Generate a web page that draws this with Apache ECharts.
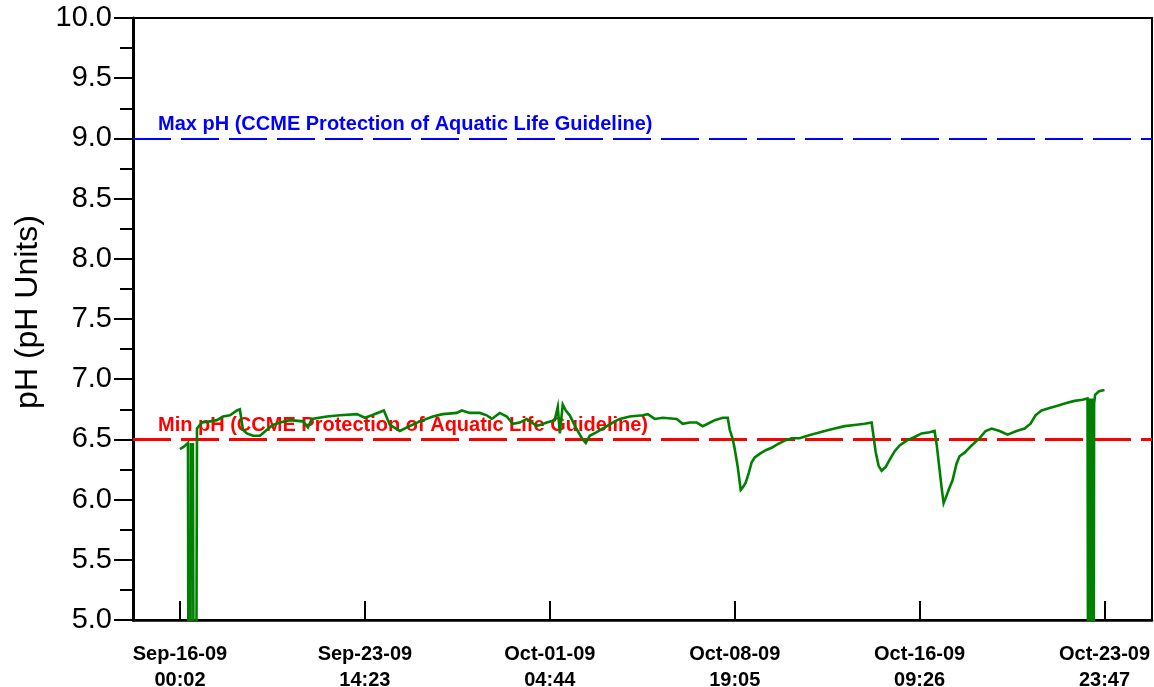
<!DOCTYPE html>
<html>
<head>
<meta charset="utf-8">
<title>pH (pH Units)</title>
<script src="https://cdn.jsdelivr.net/npm/echarts@6/dist/echarts.min.js"></script>
<style>
  html, body { margin: 0; padding: 0; background: #ffffff; }
  #chart { width: 1154px; height: 687px; }
</style>
</head>
<body>
<div id="chart"></div>
<script>
// Elapsed hours since Sep-16-09 00:00 for each logged reading
const elapsedHours = [
  0.03, 3.9, 7.9, 9.4, 10.8, 12.8, 14.8, 16.8, 21.7, 29.6,
  36.5, 42.4, 49.3, 56.2, 59.1, 62.1, 66.0, 72.0, 78.9, 85.8,
  91.7, 98.6, 108.4, 121.2, 126.2, 130.1, 144.9, 157.7, 174.5, 182.4,
  189.3, 201.1, 207.0, 216.8, 223.8, 236.6, 249.4, 259.2, 273.0, 277.9,
  285.9, 295.7, 302.6, 307.5, 315.4, 322.3, 328.2, 335.1, 342.0, 351.9,
  361.7, 369.6, 372.6, 374.6, 377.5, 380.5, 384.4, 390.3, 396.3, 400.2,
  404.1, 411.0, 418.9, 426.8, 433.7, 443.6, 456.4, 461.3, 468.2, 476.1,
  489.9, 495.8, 502.7, 509.6, 515.5, 520.5, 527.4, 535.3, 540.2, 542.2,
  545.2, 547.1, 550.1, 553.0, 555.0, 557.9, 560.9, 563.8, 566.8, 571.7,
  577.6, 583.5, 589.5, 596.4, 603.3, 611.1, 619.0, 626.9, 635.8, 645.6,
  655.5, 665.3, 675.2, 682.1, 684.1, 686.0, 689.0, 691.9, 695.9, 699.8,
  704.7, 709.7, 716.6, 724.5, 731.4, 739.3, 744.2, 746.2, 749.1, 751.1,
  753.1, 755.0, 758.0, 761.9, 765.9, 768.8, 773.8, 780.7, 788.6, 794.5,
  800.4, 808.3, 816.2, 825.0, 832.9, 838.8, 843.7, 849.7, 857.6, 865.4,
  873.3, 882.2, 890.1, 895.0, 896.5, 897.5, 898.5, 899.5, 900.5, 901.5,
  902.5, 906.3, 911.78
];

// pH readings (sensor dropouts are logged as 0)
const phValues = [
  6.42, 6.44, 6.47, 0, 6.46, 6.46, 0, 6.59, 6.64, 6.65,
  6.66, 6.69, 6.70, 6.74, 6.75, 6.58, 6.55, 6.53, 6.53, 6.58,
  6.62, 6.64, 6.66, 6.65, 6.60, 6.67, 6.69, 6.70, 6.71, 6.68,
  6.70, 6.74, 6.62, 6.57, 6.60, 6.65, 6.69, 6.71, 6.72, 6.74,
  6.72, 6.72, 6.70, 6.67, 6.72, 6.69, 6.63, 6.64, 6.67, 6.61,
  6.64, 6.66, 6.77, 6.55, 6.79, 6.74, 6.70, 6.60, 6.51, 6.47,
  6.53, 6.56, 6.60, 6.64, 6.67, 6.69, 6.70, 6.71, 6.67, 6.68,
  6.67, 6.63, 6.64, 6.64, 6.61, 6.63, 6.66, 6.68, 6.68, 6.58,
  6.50, 6.42, 6.27, 6.08, 6.10, 6.14, 6.22, 6.31, 6.35, 6.38,
  6.41, 6.43, 6.46, 6.49, 6.51, 6.51, 6.53, 6.55, 6.57, 6.59,
  6.61, 6.62, 6.63, 6.64, 6.52, 6.40, 6.28, 6.24, 6.27, 6.33,
  6.40, 6.45, 6.49, 6.52, 6.55, 6.56, 6.57, 6.46, 6.25, 6.10,
  5.97, 6.01, 6.08, 6.16, 6.30, 6.36, 6.39, 6.45, 6.51, 6.57,
  6.59, 6.57, 6.54, 6.57, 6.59, 6.63, 6.70, 6.74, 6.76, 6.78,
  6.80, 6.82, 6.83, 6.84, 0, 6.84, 0, 6.84, 0, 6.80,
  6.87, 6.90, 6.91
];

// x-axis tick positions (hours since Sep-16-09 00:00) and their labels
const tickHours = [0.033, 182.383, 364.733, 547.083, 729.433, 911.783];
const tickLabels = [
  'Sep-16-09\n00:02',
  'Sep-23-09\n14:23',
  'Oct-01-09\n04:44',
  'Oct-08-09\n19:05',
  'Oct-16-09\n09:26',
  'Oct-23-09\n23:47'
];

// Guideline limits
const maxGuideline = 9.0;
const minGuideline = 6.5;
const maxGuidelineText = 'Max pH (CCME Protection of Aquatic Life Guideline)';
const minGuidelineText = 'Min pH (CCME Protection of Aquatic Life Guideline)';

const seriesData = elapsedHours.map((h, i) => [h, phValues[i]]);

const chart = echarts.init(document.getElementById('chart'), null, { renderer: 'canvas' });

const fontFamily = 'Liberation Sans, Arial, sans-serif';

chart.setOption({
  animation: false,
  backgroundColor: '#ffffff',
  grid: {
    left: 133,
    top: 18,
    width: 1019,
    bottom: 67,
    containLabel: false,
    outerBoundsMode: 'none',
    show: true,
    borderColor: '#000000',
    borderWidth: 2,
    backgroundColor: 'transparent'
  },
  xAxis: {
    type: 'value',
    min: -46.3,
    max: 958.6,
    splitLine: { show: false },
    axisLine: { show: true, onZero: false, lineStyle: { color: '#000000', width: 2.5 } },
    axisTick: {
      show: true,
      inside: true,
      length: 19,
      customValues: tickHours,
      lineStyle: { color: '#000000', width: 2 }
    },
    axisLabel: {
      show: true,
      customValues: tickHours,
      margin: 21,
      color: '#000000',
      fontFamily: fontFamily,
      fontWeight: 'bold',
      fontSize: 20,
      lineHeight: 26,
      formatter: function (v) {
        let best = 0;
        for (let i = 1; i < tickHours.length; i++) {
          if (Math.abs(tickHours[i] - v) < Math.abs(tickHours[best] - v)) best = i;
        }
        return tickLabels[best];
      }
    }
  },
  yAxis: {
    type: 'value',
    min: 5,
    max: 10,
    interval: 0.5,
    name: 'pH (pH Units)',
    nameLocation: 'middle',
    nameGap: 88,
    nameRotate: 90,
    nameTextStyle: {
      color: '#000000',
      fontFamily: fontFamily,
      fontSize: 32,
      padding: [0, 0, 0, 14]
    },
    splitLine: { show: false },
    axisLine: { show: true, onZero: false, lineStyle: { color: '#000000', width: 3 } },
    axisTick: { show: true, inside: false, length: 19, lineStyle: { color: '#000000', width: 2 } },
    minorTick: { show: true, splitNumber: 2, length: 13, lineStyle: { color: '#000000', width: 2 } },
    minorSplitLine: { show: false },
    axisLabel: {
      margin: 21,
      color: '#000000',
      fontFamily: fontFamily,
      fontSize: 29,
      formatter: function (v) { return v.toFixed(1); }
    }
  },
  series: [
    {
      name: 'pH',
      type: 'line',
      data: seriesData,
      showSymbol: false,
      symbol: 'none',
      clip: true,
      z: 3,
      lineStyle: { color: '#008000', width: 2.6, join: 'miter' },
      emphasis: { disabled: true },
      markLine: {
        silent: true,
        symbol: 'none',
        animation: false,
        z: 2,
        data: [
          {
            yAxis: maxGuideline,
            lineStyle: { color: '#0000ff', width: 2, type: [38, 10] },
            label: {
              show: true,
              position: 'insideStartTop',
              distance: [25, 4],
              formatter: maxGuidelineText,
              color: '#0000ff',
              fontFamily: fontFamily,
              fontWeight: 'bold',
              fontSize: 20
            }
          },
          {
            yAxis: minGuideline,
            lineStyle: { color: '#ff0000', width: 3, type: [38, 10] },
            label: {
              show: true,
              position: 'insideStartTop',
              distance: [25, 4],
              formatter: minGuidelineText,
              color: '#ff0000',
              fontFamily: fontFamily,
              fontWeight: 'bold',
              fontSize: 20
            }
          }
        ]
      }
    }
  ]
});
</script>
</body>
</html>
